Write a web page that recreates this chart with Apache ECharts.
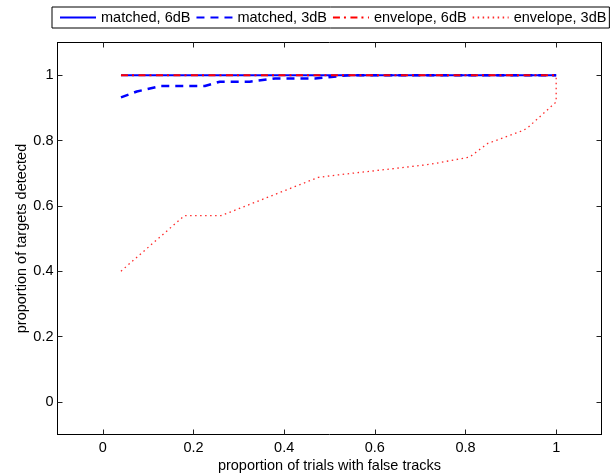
<!DOCTYPE html>
<html>
<head>
<meta charset="utf-8">
<script src="https://cdn.jsdelivr.net/npm/echarts@6/dist/echarts.min.js"></script>
<style>
  html, body { margin: 0; padding: 0; background: #fff; }
  #chart { width: 613px; height: 475px; }
</style>
</head>
<body>
<div id="chart"></div>
<script>
// Detection rate against false-track rate, four receiver configurations.
const seriesNames = ['matched, 6dB', 'matched, 3dB', 'envelope, 6dB', 'envelope, 3dB'];

// [proportion of trials with false tracks, proportion of targets detected]
const matched6dB = [[0.04, 1], [1, 1]];
const matched3dB = [
  [0.04, 0.932], [0.075, 0.95], [0.128, 0.967], [0.225, 0.967], [0.258, 0.98],
  [0.324, 0.98], [0.38, 0.99], [0.468, 0.99], [0.545, 1], [1, 1]
];
const envelope6dB = [[0.04, 1], [1, 1]];
const envelope3dB = [
  [0.04, 0.40], [0.18, 0.57], [0.261, 0.57], [0.475, 0.687], [0.52, 0.695],
  [0.648, 0.715], [0.721, 0.727], [0.809, 0.749], [0.849, 0.791], [0.926, 0.830],
  [0.937, 0.839], [1, 0.918], [1, 1]
];

const xTicks = [0, 0.2, 0.4, 0.6, 0.8, 1];
const yTicks = [0, 0.2, 0.4, 0.6, 0.8, 1];
const xRange = [-0.1, 1.1];
const yRange = [-0.1, 1.1];

const FONT = '"Liberation Sans", Arial, Helvetica, sans-serif';
const FS = 14.5;

function fmt(v) { return String(Math.round(v * 10) / 10); }

function xAxisCfg(pos, showLabels) {
  return {
    type: 'value', position: pos, min: xRange[0], max: xRange[1],
    name: showLabels ? 'proportion of trials with false tracks' : '',
    nameLocation: 'middle', nameGap: 24, nameMoveOverlap: false,
    nameTextStyle: { color: '#000', fontSize: FS, fontFamily: FONT },
    axisLine: { show: true, onZero: false, lineStyle: { color: '#000', width: 1 } },
    axisTick: { show: true, inside: true, length: 5, customValues: xTicks, lineStyle: { color: '#222' } },
    axisLabel: { show: showLabels, customValues: xTicks, formatter: fmt, margin: 6, color: '#000', fontSize: FS, fontFamily: FONT },
    splitLine: { show: false }
  };
}
function yAxisCfg(pos, showLabels) {
  return {
    type: 'value', position: pos, min: yRange[0], max: yRange[1],
    name: showLabels ? 'proportion of targets detected' : '',
    nameLocation: 'middle', nameGap: 28.5, nameMoveOverlap: false,
    nameTextStyle: { color: '#000', fontSize: FS, fontFamily: FONT },
    axisLine: { show: true, onZero: false, lineStyle: { color: '#000', width: 1 } },
    axisTick: { show: true, inside: true, length: 5, customValues: yTicks, lineStyle: { color: '#222' } },
    axisLabel: { show: showLabels, customValues: yTicks, formatter: fmt, margin: 4, color: '#000', fontSize: FS, fontFamily: FONT },
    splitLine: { show: false }
  };
}

const styles = [
  { color: '#0000ff', width: 2, type: 'solid' },
  { color: '#0000ff', width: 2.5, type: [8, 6] },
  { color: '#ff0000', width: 2, type: [7, 4, 2, 4.5] },
  { color: '#ff2a2a', width: 1.3, type: [1.5, 3.5] }
];
const datasets = [matched6dB, matched3dB, envelope6dB, envelope3dB];

const chart = echarts.init(document.getElementById('chart'), null, { renderer: 'canvas' });
chart.setOption({
  animation: false,
  backgroundColor: '#fff',
  grid: { left: 57.5, top: 42.5, width: 544, height: 392, containLabel: false, outerBoundsMode: 'none' },
  legend: {
    left: 52, top: 7, width: 556,
    padding: [3, 3, 3, 7],
    itemWidth: 36, itemHeight: 12, itemGap: 5,
    borderColor: '#000', borderWidth: 1,
    backgroundColor: '#fff',
    itemStyle: { opacity: 0 },
    textStyle: { color: '#000', fontSize: FS, fontFamily: FONT },
    data: seriesNames
  },
  xAxis: [xAxisCfg('bottom', true), xAxisCfg('top', false)],
  yAxis: [yAxisCfg('left', true), yAxisCfg('right', false)],
  series: datasets.map((d, i) => ({
    name: seriesNames[i],
    type: 'line',
    xAxisIndex: 0, yAxisIndex: 0,
    data: d,
    symbol: 'none',
    smooth: false,
    lineStyle: styles[i],
    itemStyle: { color: styles[i].color },
    emphasis: { disabled: true }
  }))
});
</script>
</body>
</html>
